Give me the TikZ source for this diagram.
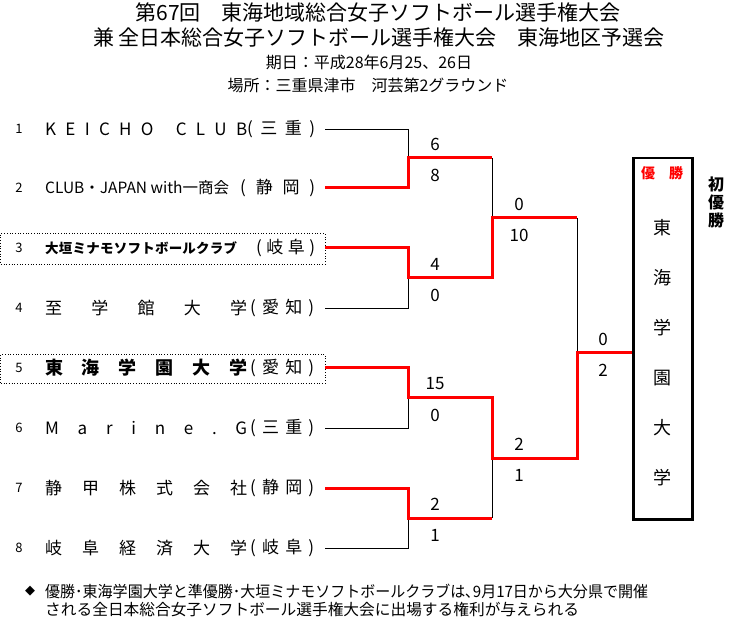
\documentclass[tikz,border=0pt]{standalone}
\usepackage{fontspec}
\usepackage{graphicx}
\setmainfont{Noto Sans CJK JP}
\newfontfamily\symf{DejaVu Sans}
\definecolor{wred}{RGB}{255,0,0}
\newcommand\fs[1]{\fontsize{#1pt}{#1pt}\selectfont}
\def\sprd#1#2{\hbox to #1{\sprdA#2\relax}}
\def\sprdA#1{#1\sprdB}
\def\sprdB#1{\ifx#1\relax\else\hfill#1\expandafter\sprdB\fi}
\tikzset{
  tname/.style={anchor=west,inner sep=0pt,font=\fs{17}},
  tnum/.style={inner sep=0pt,font=\fs{13}},
  score/.style={inner sep=0pt,font=\fs{17}},
  wline/.style={wred,line width=3pt,line join=miter},
  lline/.style={black,line width=0.9pt},
  hlbox/.style={draw,dotted,line width=0.7pt,anchor=north west,inner sep=0pt},
  bchar/.style={inner sep=0pt,font=\fs{18}},
  ttl/.style={inner sep=0pt,font=\fs{21}},
  sub/.style={inner sep=0pt,font=\fs{16}},
}
\begin{document}
\begin{tikzpicture}[x=1pt,y=-1pt]
\useasboundingbox (0,0) rectangle (742,620);
% titles
\node[ttl] (title1) at (378,13) {第67回　東海地域総合女子ソフトボール選手権大会};
\node[ttl] (title2) at (379,38) {兼 全日本総合女子ソフトボール選手権大会　東海地区予選会};
\node[sub] (date) at (369,62) {期日：平成28年6月25、26日};
\node[sub] (place) at (368,85) {場所：三重県津市　河芸第2グラウンド};
% highlight boxes
\node[hlbox,minimum width=324pt,minimum height=31pt] (hl3) at (0.5,233) {};
\node[hlbox,minimum width=324pt,minimum height=29pt] (hl5) at (0.5,354) {};
% numbers
\foreach \i/\y in {1/129,2/188,3/248,4/308,5/368,6/428,7/488,8/548}{
  \node[tnum] (k\i) at (19,\y) {\i};
  \coordinate (t\i) at (325,\y);
}
% team names
\node[tname] (n1) at (45,129) {\sprd{202pt}{KEICHO{\ }CLUB}};
\node[tname] (p1) at (247,129) {\sprd{68pt}{(三重)}};
\node[tname,font=\fs{15.5}] (n2) at (45,188) {CLUB・JAPAN with一商会};
\node[tname] (p2) at (240,188) {\sprd{75pt}{(静岡)}};
\node[tname,font=\fs{13.5}\bfseries] (n3) at (45,248) {\sprd{192pt}{大垣ミナモソフトボールクラブ}};
\node[tname] (p3) at (256,248) {\sprd{59pt}{(岐阜)}};
\node[tname] (n4) at (45,308) {\sprd{202pt}{至学館大学}};
\node[tname] (p4) at (250,308) {\sprd{64pt}{(愛知)}};
\node[tname,font=\fs{18}\bfseries] (n5) at (45,368) {\sprd{202pt}{東海学園大学}};
\node[tname] (p5) at (250,368) {\sprd{64pt}{(愛知)}};
\node[tname] (n6) at (45,428) {\sprd{202pt}{Marine.G}};
\node[tname] (p6) at (250,428) {\sprd{64pt}{(三重)}};
\node[tname] (n7) at (45,488) {\sprd{202pt}{静甲株式会社}};
\node[tname] (p7) at (250,488) {\sprd{64pt}{(静岡)}};
\node[tname] (n8) at (45,548) {\sprd{202pt}{岐阜経済大学}};
\node[tname] (p8) at (250,548) {\sprd{64pt}{(岐阜)}};
% bracket points
\coordinate (m1) at (408,158);
\coordinate (m2) at (408,278);
\coordinate (m3) at (408,398);
\coordinate (m4) at (408,518);
\coordinate (s1) at (492,218);
\coordinate (s2) at (492,458);
\coordinate (f) at (577,353);
% champion box
\node[draw,line width=2.5pt,minimum width=59pt,minimum height=361pt,anchor=north west,inner sep=0pt] (champ) at (632,157) {};
% losing lines
\draw[lline] (t1) -| (m1);
\draw[lline] (t4) -| (m2);
\draw[lline] (t6) -| (m3);
\draw[lline] (t8) -| (m4);
\draw[lline] (m1 -| s1) -- (s1);
\draw[lline] (m4 -| s2) -- (s2);
\draw[lline] (s1 -| f) -- (f);
% winning lines
\draw[wline] (t2) -| (m1) -- (m1 -| s1);
\draw[wline] (t3) -| (m2) -- (m2 -| s1) -- (s1) -- (s1 -| f);
\draw[wline] (t7) -| (m4) -- (m4 -| s2);
\draw[wline] (t5) -| (m3) -- (m3 -| s2) -- (s2) -- (s2 -| f) -- (f) -- (f -| champ.west);
% scores
\node[score] (a1) at (435,144) {6};  \node[score] (b1) at (435,175) {8};
\node[score] (a2) at (435,264) {4};  \node[score] (b2) at (435,295) {0};
\node[score] (a3) at (435,384) {15}; \node[score] (b3) at (435,415) {0};
\node[score] (a4) at (435,504) {2};  \node[score] (b4) at (435,535) {1};
\node[score] (c1) at (519,204) {0};  \node[score] (d1) at (519,235) {10};
\node[score] (c2) at (519,444) {2};  \node[score] (d2) at (519,475) {1};
\node[score] (e1) at (603,339) {0};  \node[score] (e2) at (603,370) {2};
% champion text
\node[inner sep=0pt,font=\fs{14}\bfseries,text=wred] (yusho) at (662,173) {優　勝};
\node[bchar] (w1) at (662,228) {東};
\node[bchar] (w2) at (662,278) {海};
\node[bchar] (w3) at (662,328) {学};
\node[bchar] (w4) at (662,378) {園};
\node[bchar] (w5) at (662,428) {大};
\node[bchar] (w6) at (662,478) {学};
\node[inner sep=0pt,font=\fs{16}\bfseries,align=center] (first) at (716,202) {初\\[2pt]優\\[2pt]勝};
% footnote
\node[inner sep=0pt,anchor=west,font=\symf\fs{13}] (dia) at (25,591) {◆};
\node[inner sep=0pt,anchor=west,font=\fs{15.7}] (note1) at (45,591) {\scalebox{0.956}[1]{優勝･東海学園大学と準優勝･大垣ミナモソフトボールクラブは､9月17日から大分県で開催}};
\node[inner sep=0pt,anchor=west,font=\fs{15.7}] (note2) at (45,610) {される全日本総合女子ソフトボール選手権大会に出場する権利が与えられる};
\end{tikzpicture}
\end{document}
